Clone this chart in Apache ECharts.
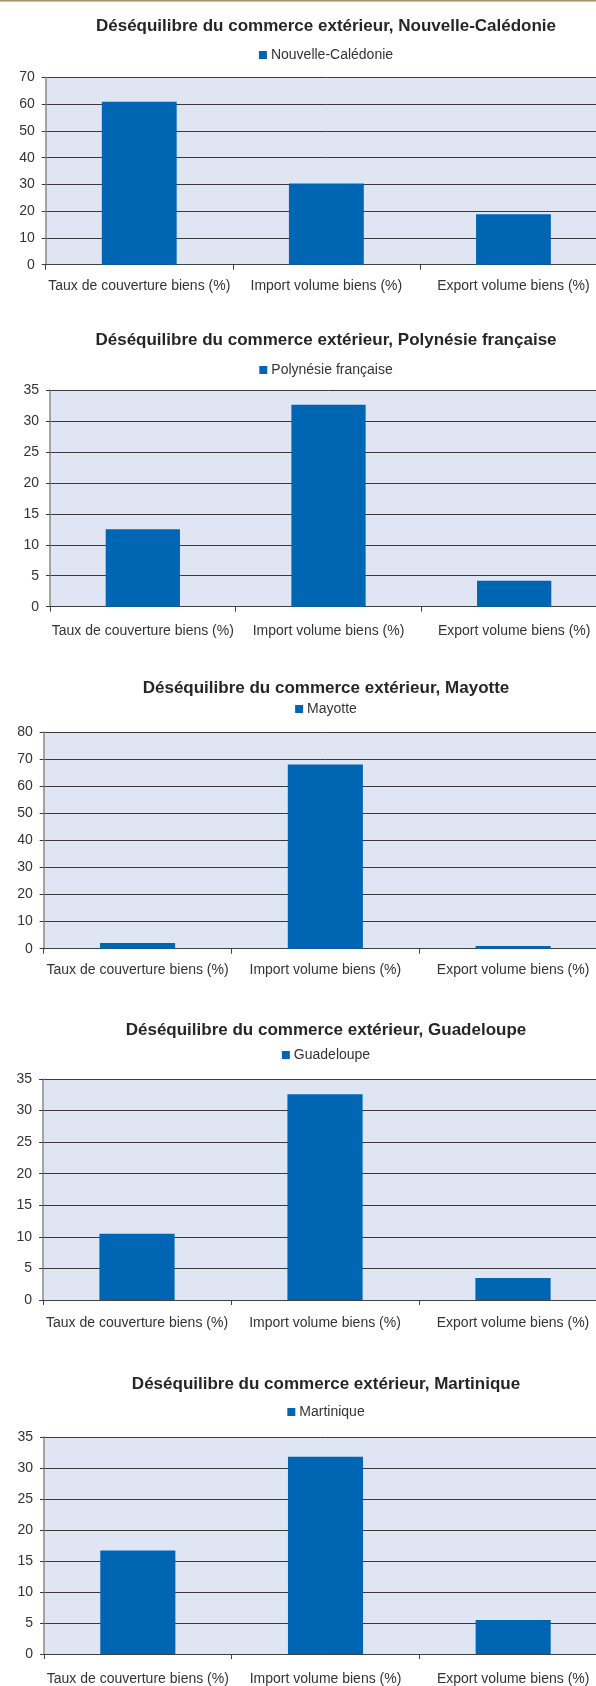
<!DOCTYPE html>
<html><head><meta charset="utf-8">
<script src="https://cdn.jsdelivr.net/npm/echarts@6/dist/echarts.min.js"></script>
<style>html,body{margin:0;padding:0;background:#fff;overflow:hidden;width:596px;height:1686px}#c{width:652px;height:1686px}</style>
</head><body><div id="c"></div>
<script>
const categories = ['Taux de couverture biens (%)', 'Import volume biens (%)', 'Export volume biens (%)'];
const titlePrefix = 'Déséquilibre du commerce extérieur, ';
const territories = ['Nouvelle-Calédonie', 'Polynésie française', 'Mayotte', 'Guadeloupe', 'Martinique'];
const valuesNC = [60.9, 30.4, 18.9];
const valuesPF = [12.5, 32.6, 4.2];
const valuesMY = [2.1, 68.0, 1.0];
const valuesGP = [10.5, 32.6, 3.5];
const valuesMQ = [16.7, 31.8, 5.5];
const yMax = [70, 35, 80, 35, 35];
const yInterval = [10, 5, 10, 5, 5];
const allValues = [valuesNC, valuesPF, valuesMY, valuesGP, valuesMQ];

// layout (pixels)
const layout = [
  {title: 21.7, legend: 55, top: 77.5, bottom: 264.7, left: 45.7, lm: 14},
  {title: 335, legend: 370, top: 390, bottom: 606.7, left: 50, lm: 17},
  {title: 683, legend: 709, top: 732, bottom: 948.7, left: 43.7, lm: 14},
  {title: 1025, legend: 1055, top: 1079, bottom: 1300, left: 43, lm: 16},
  {title: 1379, legend: 1412, top: 1437, bottom: 1655, left: 44, lm: 18}
];
const W = 652, RIGHT = 45;
const FONT = '"Liberation Sans", Arial, sans-serif';
const BAR = '#0066B3', PLOTBG = '#DFE5F3', GRID = '#3a3a3a', TXT = '#333333';

const option = {
  animation: false,
  textStyle: {fontFamily: FONT},
  title: [], legend: [], grid: [], xAxis: [], yAxis: [], series: [],
  graphic: [{type: 'rect', shape: {x: 0, y: 0, width: W, height: 1.5}, style: {fill: '#A39170'}, silent: true}]
};
territories.forEach((name, i) => {
  const L = layout[i];
  option.title.push({
    text: titlePrefix + name, left: 'center', top: L.title - 9,
    textStyle: {fontFamily: FONT, fontSize: 17, fontWeight: 'bold', color: '#262626', lineHeight: 18}
  });
  option.legend.push({
    data: [name], left: 'center', top: L.legend - 7, itemWidth: 8, itemHeight: 8, icon: 'rect',
    itemGap: 10, padding: 0,
    textStyle: {fontFamily: FONT, fontSize: 14, color: TXT, lineHeight: 14, padding: [0, 0, 0, -1]}
  });
  option.grid.push({left: L.left, right: RIGHT, top: L.top, height: L.bottom - L.top,
    show: true, backgroundColor: PLOTBG, borderWidth: 0, containLabel: false});
  option.xAxis.push({
    type: 'category', gridIndex: i, data: categories,
    axisLine: {show: true, lineStyle: {color: '#404040', width: 1}},
    axisTick: {show: true, length: 5, alignWithLabel: false, lineStyle: {color: '#404040'}},
    axisLabel: {interval: 0, fontFamily: FONT, fontSize: 14, color: TXT, margin: L.lm},
    splitLine: {show: false}
  });
  option.yAxis.push({
    type: 'value', gridIndex: i, min: 0, max: yMax[i], interval: yInterval[i],
    axisLine: {show: true, lineStyle: {color: '#8a8a8a', width: 1.5}},
    axisTick: {show: true, length: 4, lineStyle: {color: GRID}},
    axisLabel: {fontFamily: FONT, fontSize: 14, color: TXT, margin: 11},
    splitLine: {show: true, lineStyle: {color: GRID, width: 1}}
  });
  option.series.push({
    type: 'bar', name: name, xAxisIndex: i, yAxisIndex: i, data: allValues[i],
    barWidth: '40%', itemStyle: {color: BAR}
  });
});
const chart = echarts.init(document.getElementById('c'), null, {renderer: 'canvas'});
chart.setOption(option);
</script></body></html>
